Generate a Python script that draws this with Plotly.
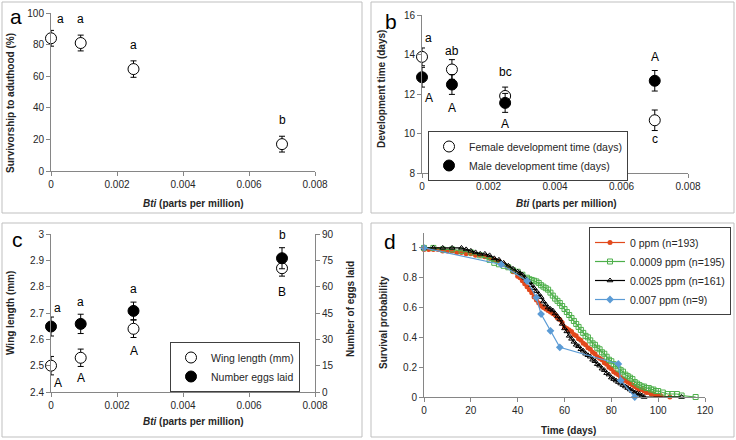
import plotly.graph_objects as go

# ---------------- data ----------------
conc = [0, 0.0009, 0.0025, 0.007]

# panel a
surv_adult = [84, 81, 64.5, 17]
surv_adult_err = [5, 5, 5.2, 5]
surv_letters = ["a", "a", "a", "b"]

# panel b
female_dev = [13.88, 13.24, 11.9, 10.67]
female_dev_err = [0.45, 0.5, 0.45, 0.52]
male_dev = [12.85, 12.48, 11.55, 12.67]
male_dev_err = [0.5, 0.5, 0.48, 0.52]
female_letters = ["a", "ab", "bc", "c"]
male_letters = ["A", "A", "A", "A"]

# panel c
wing_len = [2.5, 2.53, 2.64, 2.87]
wing_err = [0.035, 0.033, 0.033, 0.03]
eggs = [37.3, 38.8, 46.2, 76.2]
eggs_err = [5.4, 5.5, 5.0, 6.0]
egg_letters = ["a", "a", "a", "b"]
wing_letters = ["A", "A", "A", "B"]

x_ticks = [0, 0.002, 0.004, 0.006, 0.008]
x_ticktext = ["0", "0.002", "0.004", "0.006", "0.008"]

# panel d (survival curves)
d0_days = [0, 2, 4, 6, 8, 10, 12, 14, 16, 18, 20, 22, 24, 26, 28, 30, 32, 34, 36, 38, 40,
           41, 42, 43, 44, 45, 46, 47, 48, 49, 50, 51, 52, 53, 54, 55, 56, 57, 58, 59, 60,
           61, 62, 63, 64, 65, 66, 67, 68, 69, 70, 71, 72, 73, 74, 75, 76, 77, 78, 79, 80,
           81, 82, 83, 84, 85, 86, 87, 88, 89, 90, 91, 92, 93, 94, 95, 96, 97, 98, 99, 100,
           101, 105]
d0_surv = [0.99, 0.99, 0.99, 0.99, 0.98, 0.98, 0.98, 0.97, 0.97, 0.96, 0.96, 0.95, 0.95, 0.94,
           0.93, 0.92, 0.91, 0.89, 0.87, 0.84, 0.81,
           0.80, 0.78, 0.76, 0.74, 0.72, 0.70, 0.67, 0.65, 0.63, 0.61,
           0.60, 0.59, 0.58, 0.57, 0.56, 0.55, 0.53, 0.52, 0.50, 0.47,
           0.46, 0.45, 0.44, 0.42, 0.41, 0.39, 0.38, 0.36, 0.35, 0.33,
           0.32, 0.30, 0.29, 0.27, 0.26, 0.25, 0.23, 0.22, 0.20, 0.19,
           0.17, 0.16, 0.15, 0.13, 0.12, 0.11, 0.10, 0.09, 0.08, 0.07,
           0.06, 0.05, 0.05, 0.04, 0.03, 0.03, 0.02, 0.02, 0.01, 0.01,
           0.01, 0.0]

d1_days = [0, 4, 8, 12, 16, 20, 24, 28, 30, 32, 34, 36, 38, 40, 42, 44, 45, 46, 47, 48, 49, 50,
           51, 52, 53, 54, 55, 56, 57, 58, 59, 60, 61, 62, 63, 64, 65, 66, 67, 68, 69, 70,
           71, 72, 73, 74, 75, 76, 77, 78, 79, 80, 81, 82, 83, 84, 85, 86, 87, 88, 89, 90,
           91, 92, 93, 94, 95, 96, 97, 98, 99, 100, 102, 104, 106, 108, 110, 116]
d1_surv = [1.0, 1.0, 0.99, 0.99, 0.98, 0.97, 0.95, 0.92, 0.90, 0.89, 0.88, 0.87, 0.85, 0.84,
           0.82, 0.80, 0.79, 0.785, 0.78, 0.775, 0.765, 0.75,
           0.74, 0.73, 0.72, 0.70, 0.68, 0.66, 0.645, 0.63, 0.61, 0.59,
           0.57, 0.55, 0.53, 0.51, 0.49, 0.47, 0.45, 0.43, 0.41, 0.40,
           0.38, 0.36, 0.35, 0.33, 0.32, 0.30, 0.29, 0.27, 0.25, 0.24,
           0.22, 0.21, 0.19, 0.18, 0.17, 0.15, 0.14, 0.13, 0.12, 0.10,
           0.09, 0.08, 0.07, 0.07, 0.06, 0.06, 0.05, 0.05, 0.04, 0.04,
           0.03, 0.02, 0.02, 0.02, 0.01, 0.0]

d2_days = [0, 4, 8, 12, 16, 18, 20, 22, 24, 26, 28, 30, 32, 34, 36, 38, 40,
           41, 42, 43, 44, 45, 46, 47, 48, 49, 50, 51, 52, 53, 54, 55, 56, 57, 58, 59, 60,
           61, 62, 63, 64, 65, 66, 67, 68, 69, 70, 71, 72, 73, 74, 75, 76, 77, 78, 79, 80,
           81, 82, 83, 84, 85, 86, 87, 88, 89, 90, 91, 92, 93, 94, 110]
d2_surv = [1.0, 1.0, 1.0, 1.0, 1.0, 0.99, 0.98, 0.97, 0.96, 0.96, 0.95, 0.93, 0.92, 0.90,
           0.88, 0.86, 0.84,
           0.83, 0.82, 0.80, 0.78, 0.77, 0.75, 0.73, 0.71, 0.69, 0.67,
           0.64, 0.62, 0.60, 0.59, 0.58, 0.56, 0.54, 0.52, 0.49, 0.46,
           0.44, 0.41, 0.39, 0.37, 0.35, 0.34, 0.32, 0.31, 0.29, 0.28,
           0.27, 0.25, 0.24, 0.22, 0.21, 0.19, 0.18, 0.16, 0.15, 0.13,
           0.12, 0.11, 0.10, 0.09, 0.08, 0.07, 0.06, 0.05, 0.04, 0.03,
           0.025, 0.02, 0.01, 0.0, 0.0]

d3_days = [0, 33, 44, 48, 50, 54, 58, 83, 84, 90]
d3_surv = [1.0, 0.889, 0.778, 0.667, 0.556, 0.444, 0.333, 0.222, 0.111, 0.0]

surv_names = ["0 ppm (n=193)", "0.0009 ppm (n=195)", "0.0025 ppm (n=161)", "0.007 ppm (n=9)"]
d_ticks_x = [0, 20, 40, 60, 80, 100, 120]
d_ticks_y = [0, 0.2, 0.4, 0.6, 0.8, 1]
d_ticktext_y = ["0", "0.2", "0.4", "0.6", "0.8", "1"]

# ---------------- figure ----------------
W, H = 736, 440
FONT = "Liberation Sans, Arial, sans-serif"
AX = "#868686"
TXT = "#262626"
TICK_SIZE = 10
TITLE_SIZE = 10

def px(x):
    return x / W

def py(y):
    return 1 - y / H

fig = go.Figure()

err_style = dict(type="data", thickness=1, width=3, color="black")
open_marker = dict(symbol="circle", size=11, color="white", line=dict(color="black", width=1))
fill_marker = dict(symbol="circle", size=11, color="black", line=dict(color="black", width=1))

# panel a
fig.add_trace(go.Scatter(x=conc, y=surv_adult, mode="markers", marker=open_marker,
                         error_y=dict(array=surv_adult_err, **err_style),
                         xaxis="x", yaxis="y", showlegend=False, cliponaxis=False))

# panel b
fig.add_trace(go.Scatter(x=conc, y=female_dev, mode="markers", marker=open_marker,
                         error_y=dict(array=female_dev_err, **err_style),
                         name="Female development time (days)",
                         xaxis="x2", yaxis="y2", legend="legend", cliponaxis=False))
fig.add_trace(go.Scatter(x=conc, y=male_dev, mode="markers", marker=fill_marker,
                         error_y=dict(array=male_dev_err, **err_style),
                         name="Male development time (days)",
                         xaxis="x2", yaxis="y2", legend="legend", cliponaxis=False))

# panel c
fig.add_trace(go.Scatter(x=conc, y=wing_len, mode="markers", marker=open_marker,
                         error_y=dict(array=wing_err, **err_style),
                         name="Wing length (mm)",
                         xaxis="x3", yaxis="y3", legend="legend2", cliponaxis=False))
fig.add_trace(go.Scatter(x=conc, y=eggs, mode="markers", marker=fill_marker,
                         error_y=dict(array=eggs_err, **err_style),
                         name="Number eggs laid",
                         xaxis="x3", yaxis="y5", legend="legend2", cliponaxis=False))

# panel d
d_series = [(d0_days, d0_surv, "#E2491C", dict(symbol="circle", size=5)),
            (d1_days, d1_surv, "#4DAF4A", dict(symbol="square-open", size=5, line=dict(width=1))),
            (d2_days, d2_surv, "#000000", dict(symbol="triangle-up-open", size=5, line=dict(width=1))),
            (d3_days, d3_surv, "#5B9BD5", dict(symbol="diamond", size=6))]
for (dx, dy, col, mk), nm in zip(d_series, surv_names):
    mk = dict(mk)
    mk["color"] = col
    fig.add_trace(go.Scatter(x=dx, y=dy, mode="lines+markers", name=nm,
                             line=dict(color=col, width=1.2), marker=mk,
                             xaxis="x4", yaxis="y4", legend="legend3", cliponaxis=False))

# axes
def xax(dom, anchor, rng, tv, tt):
    return dict(domain=dom, anchor=anchor, range=rng, tickvals=tv, ticktext=tt,
                showline=True, linecolor=AX, linewidth=1, ticks="outside", ticklen=4,
                tickcolor=AX, showgrid=False, zeroline=False, automargin=False,
                tickfont=dict(family=FONT, size=TICK_SIZE, color=TXT))

def yax(dom, anchor, rng, dtick, side="left", tv=None, tt=None):
    d = dict(domain=dom, anchor=anchor, range=rng, dtick=dtick, side=side,
             showline=True, linecolor=AX, linewidth=1, ticks="outside", ticklen=4,
             tickcolor=AX, showgrid=False, zeroline=False, automargin=False,
             tickfont=dict(family=FONT, size=TICK_SIZE, color=TXT))
    if tv is not None:
        d["tickvals"] = tv
        d["ticktext"] = tt
        d.pop("dtick")
    return d

dom_ax_a = [px(51), px(315)]
dom_ax_b = [px(422), px(688)]
dom_ay_top = [py(171), py(13)]
dom_by = [py(173), py(15)]
dom_cy = [py(392), py(234)]
dom_dx = [px(424), px(705)]
dom_dy = [py(397), py(233)]

leg_common = dict(bgcolor="white", bordercolor="#404040", borderwidth=1, itemwidth=30,
                  tracegroupgap=0)

fig.update_layout(
    width=W, height=H, margin=dict(l=0, r=0, t=0, b=0, autoexpand=False),
    paper_bgcolor="white", plot_bgcolor="rgba(0,0,0,0)",
    font=dict(family=FONT, size=11, color=TXT),
    xaxis=xax(dom_ax_a, "y", [0, 0.008], x_ticks, x_ticktext),
    yaxis=yax(dom_ay_top, "x", [0, 100], 20),
    xaxis2=xax(dom_ax_b, "y2", [0, 0.008], x_ticks, x_ticktext),
    yaxis2=yax(dom_by, "x2", [8, 16], 2),
    xaxis3=xax(dom_ax_a, "y3", [0, 0.008], x_ticks, x_ticktext),
    yaxis3=yax(dom_cy, "x3", [2.4, 3.0], 0.1),
    yaxis5=dict(yax(dom_cy, "x3", [0, 90], 15, side="right"), overlaying="y3"),
    xaxis4=xax(dom_dx, "y4", [0, 120], d_ticks_x, [str(v) for v in d_ticks_x]),
    yaxis4=yax(dom_dy, "x4", [0, 1.1], None, tv=d_ticks_y, tt=d_ticktext_y),
    legend=dict(x=px(428), y=py(131), xanchor="left", yanchor="top",
                font=dict(family=FONT, size=10.5, color=TXT), **leg_common),
    legend2=dict(x=px(300), y=py(342), xanchor="right", yanchor="top",
                 font=dict(family=FONT, size=10.5, color=TXT), **leg_common),
    legend3=dict(x=px(731), y=py(227), xanchor="right", yanchor="top",
                 font=dict(family=FONT, size=10.5, color=TXT), **leg_common),
)

# panel borders
for x0, y0, x1, y1 in [(2, 2, 362, 213), (371, 2, 734, 213), (2, 223, 362, 437), (371, 223, 734, 437)]:
    fig.add_shape(type="rect", xref="paper", yref="paper", x0=px(x0), x1=px(x1),
                  y0=py(y1), y1=py(y0), line=dict(color="#BFBFBF", width=1), layer="below")

def ptext(txt, x, y, size, angle=0, color=TXT):
    fig.add_annotation(text=txt, xref="paper", yref="paper", x=px(x), y=py(y),
                       xanchor="center", yanchor="middle", textangle=angle,
                       showarrow=False, font=dict(family=FONT, size=size, color=color))

# panel letters
for lab, x, y in [("a", 16, 17), ("b", 391, 21), ("c", 17, 239), ("d", 390, 241)]:
    ptext(lab, x, y, 21, color="black")

# axis titles
bti_title = "<b><i>Bti</i> (parts per million)</b>"
ptext(bti_title, 193, 203, TITLE_SIZE)
ptext(bti_title, 566, 203, TITLE_SIZE)
ptext(bti_title, 193, 421, TITLE_SIZE)
ptext("<b>Time (days)</b>", 568, 430, TITLE_SIZE)
ptext("<b>Survivorship to aduthood (%)</b>", 10, 103, TITLE_SIZE, angle=-90)
ptext("<b>Development time (days)</b>", 381, 89, TITLE_SIZE, angle=-90)
ptext("<b>Wing length (mm)</b>", 10, 313, TITLE_SIZE, angle=-90)
ptext("<b>Number of eggs laid</b>", 350, 309, TITLE_SIZE, angle=-90)
ptext("<b>Survival probability</b>", 383, 322, TITLE_SIZE, angle=-90)

def letter(txt, x, y, xr, yr):
    fig.add_annotation(text=txt, x=x, y=y, xref=xr, yref=yr, showarrow=False,
                       xanchor="center", yanchor="middle",
                       font=dict(family=FONT, size=12, color="black"))

# panel a letters
for t, x, y in zip(surv_letters, [0.0003, 0.0009, 0.0025, 0.007], [96, 96, 80, 32]):
    letter(t, x, y, "x", "y")
# panel b letters
for t, x, y in zip(female_letters, [0.0002, 0.0009, 0.0025, 0.007], [14.85, 14.2, 13.1, 9.7]):
    letter(t, x, y, "x2", "y2")
for t, x, y in zip(male_letters, [0.0002, 0.0009, 0.0025, 0.007], [11.8, 11.27, 10.5, 13.88]):
    letter(t, x, y, "x2", "y2")
# panel c letters
for t, x, y in zip(egg_letters, [0.0002, 0.0009, 0.0025, 0.007], [2.72, 2.74, 2.79, 2.996]):
    letter(t, x, y, "x3", "y3")
for t, x, y in zip(wing_letters, [0.0002, 0.0009, 0.0025, 0.007], [2.434, 2.453, 2.557, 2.778]):
    letter(t, x, y, "x3", "y3")

fig.write_html("out.html", config={"displayModeBar": False},
               post_script="document.body.style.margin='0';document.body.style.overflow='hidden';")
